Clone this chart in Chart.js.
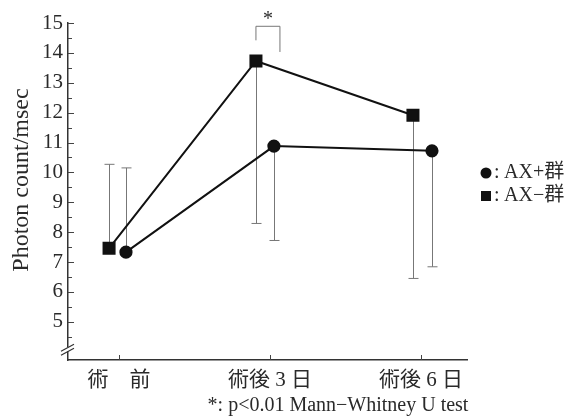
<!DOCTYPE html>
<html>
<head>
<meta charset="utf-8">
<script src="https://cdn.jsdelivr.net/npm/chart.js@4"></script>
<style>
  html, body { margin: 0; padding: 0; background: #fff; }
  #wrap { width: 574px; height: 420px; }
</style>
</head>
<body>
<div id="wrap"><canvas id="chart" width="574" height="420"></canvas></div>
<script>
// Datos
const categorias = ["術　前", "術後 3 日", "術後 6 日"];
const axPlus = [7.33, 10.88, 10.72];      // AX+群 (●)
const axPlusSD = [2.82, 3.16, 3.88];
const axMinus = [7.46, 13.73, 11.91];     // AX−群 (■)
const axMinusSD = [2.81, 5.44, 5.46];
const sdDir = [1, -1, -1];                // barra hacia arriba / abajo
const yTicks = [5, 6, 7, 8, 9, 10, 11, 12, 13, 14, 15];

const serif = "'Liberation Serif', 'Noto Sans CJK JP', serif";
const ink = "#2a2a2a";

// desplazamiento horizontal de cada marca respecto a su categoría
const shiftPlus = [0.046, 0.026, 0.073];
const shiftMinus = [-0.066, -0.093, -0.053];

const puntos = (vals, shift) => vals.map((v, i) => ({ x: i + shift[i], y: v }));

// ==============================
// Dibujos extra
// ==============================
const extras = {
    id: "extras",
    beforeDatasetsDraw(chart) {
        const ctx = chart.ctx;
        const xs = chart.scales.x, ys = chart.scales.y;
        const area = chart.chartArea;
        ctx.save();

        // marcas del eje Y (hacia dentro)
        ctx.strokeStyle = "#444";
        ctx.lineWidth = 1;
        for (let v = 4.5; v <= 15; v += 0.5) {
            const y = Math.round(ys.getPixelForValue(v)) + 0.5;
            const len = Number.isInteger(v) ? 6 : 4;
            ctx.beginPath();
            ctx.moveTo(area.left, y);
            ctx.lineTo(area.left + len, y);
            ctx.stroke();
        }
        // marcas del eje X
        categorias.forEach((c, i) => {
            const x = Math.round(xs.getPixelForValue(i)) + 0.5;
            ctx.beginPath();
            ctx.moveTo(x, area.bottom);
            ctx.lineTo(x, area.bottom - 5);
            ctx.stroke();
        });

        // corte del eje
        const yb = ys.getPixelForValue(4.08);
        ctx.fillStyle = "#fff";
        ctx.fillRect(area.left - 2, yb - 2, 4, 4);
        ctx.strokeStyle = "#333";
        ctx.lineWidth = 1.2;
        [-2, 2].forEach(d => {
            ctx.beginPath();
            ctx.moveTo(area.left - 7, yb + d + 4);
            ctx.lineTo(area.left + 6, yb + d - 3);
            ctx.stroke();
        });

        // barras de desviación
        ctx.strokeStyle = "#777";
        ctx.lineWidth = 1;
        const barras = (vals, sd, shift) => vals.forEach((v, i) => {
            const x = Math.round(xs.getPixelForValue(i + shift[i])) + 0.5;
            const y0 = ys.getPixelForValue(v);
            const y1 = ys.getPixelForValue(v + sdDir[i] * sd[i]);
            ctx.beginPath();
            ctx.moveTo(x, y0);
            ctx.lineTo(x, y1);
            ctx.moveTo(x - 5, y1);
            ctx.lineTo(x + 5, y1);
            ctx.stroke();
        });
        barras(axMinus, axMinusSD, shiftMinus);
        barras(axPlus, axPlusSD, shiftPlus);

        // corchete de significancia
        const xl = xs.getPixelForValue(1 + shiftMinus[1]);
        const xr = xl + 24;
        const top = ys.getPixelForValue(14.89);
        ctx.beginPath();
        ctx.moveTo(xl, ys.getPixelForValue(14.42));
        ctx.lineTo(xl, top);
        ctx.lineTo(xr, top);
        ctx.lineTo(xr, ys.getPixelForValue(14.03));
        ctx.stroke();
        ctx.fillStyle = ink;
        ctx.font = "20px " + serif;
        ctx.textAlign = "center";
        ctx.textBaseline = "middle";
        ctx.fillText("*", (xl + xr) / 2, top - 7);

        ctx.restore();
    },
    afterDraw(chart) {
        const ctx = chart.ctx;
        ctx.save();
        ctx.fillStyle = ink;

        // título del eje Y
        ctx.save();
        ctx.translate(22, 180);
        ctx.rotate(-Math.PI / 2);
        ctx.font = "24px " + serif;
        ctx.textAlign = "center";
        ctx.textBaseline = "middle";
        ctx.fillText("Photon count/msec", 0, 0);
        ctx.restore();

        // leyenda
        ctx.fillStyle = "#111";
        ctx.beginPath();
        ctx.arc(486, 173, 5.5, 0, Math.PI * 2);
        ctx.fill();
        ctx.fillRect(481, 191, 10, 10);
        ctx.fillStyle = ink;
        ctx.font = "20px " + serif;
        ctx.textAlign = "left";
        ctx.textBaseline = "middle";
        ctx.fillText(":", 494, 173);
        ctx.fillText(":", 494, 196);
        ctx.fillText("AX+群", 504, 173);
        ctx.fillText("AX−群", 504, 196);

        // nota al pie
        ctx.textAlign = "center";
        ctx.fillText("*: p<0.01 Mann−Whitney U test", 338, 406);
        ctx.restore();
    }
};

// ==============================
// GRÁFICO
// ==============================
const chart = new Chart(document.getElementById("chart"), {
    type: "scatter",
    data: {
        datasets: [{
            label: "AX−群",
            data: puntos(axMinus, shiftMinus),
            showLine: true,
            borderColor: "#111",
            backgroundColor: "#111",
            borderWidth: 2,
            pointStyle: "rect",
            pointRadius: 7.8,
            pointHoverRadius: 7.8
        }, {
            label: "AX+群",
            data: puntos(axPlus, shiftPlus),
            showLine: true,
            borderColor: "#111",
            backgroundColor: "#111",
            borderWidth: 2,
            pointStyle: "circle",
            pointRadius: 5.6,
            pointHoverRadius: 5.6
        }]
    },
    options: {
        responsive: false,
        animation: false,
        layout: { padding: { left: 0, right: 107, top: 23, bottom: 0 } },
        plugins: {
            legend: { display: false },
            tooltip: { enabled: false }
        },
        scales: {
            x: {
                type: "linear",
                min: -0.338,
                max: 2.305,
                afterFit: s => { s.height = 60; },
                afterBuildTicks: s => { s.ticks = categorias.map((c, i) => ({ value: i })); },
                grid: { display: false, drawTicks: false },
                border: { display: true, color: "#333", width: 1.5 },
                ticks: {
                    autoSkip: false,
                    maxRotation: 0,
                    padding: 8,
                    color: ink,
                    font: { family: serif, size: 21 },
                    callback: v => categorias[v]
                }
            },
            y: {
                min: 3.72,
                max: 15,
                afterFit: s => { s.width = 68; },
                afterBuildTicks: s => { s.ticks = yTicks.map(v => ({ value: v })); },
                grid: { display: false, drawTicks: false },
                border: { display: true, color: "#333", width: 1.5 },
                ticks: {
                    padding: 5,
                    color: ink,
                    font: { family: serif, size: 21 }
                }
            }
        }
    },
    plugins: [extras]
});
</script>
</body>
</html>
